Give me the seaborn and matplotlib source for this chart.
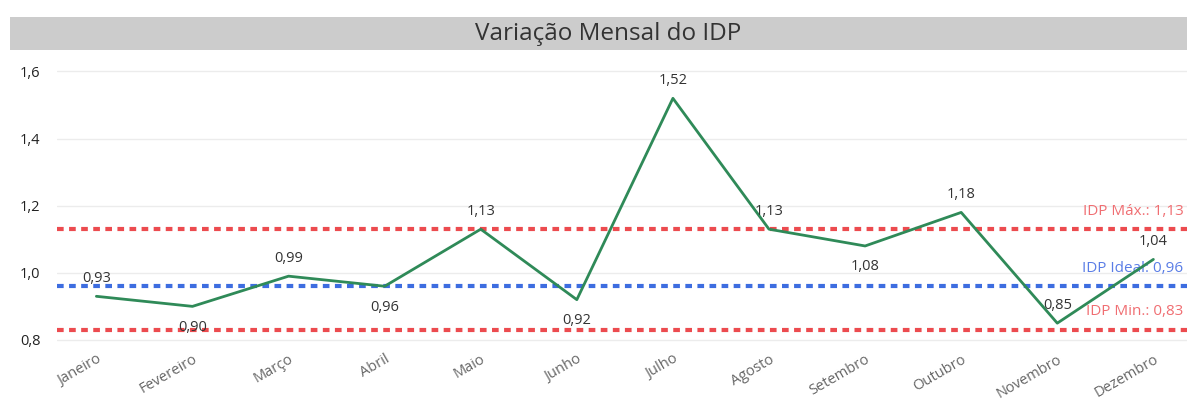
import matplotlib
matplotlib.use("Agg")
import matplotlib.pyplot as plt
import matplotlib.transforms as mtransforms
from matplotlib.patches import Rectangle
import pandas as pd
import seaborn as sns

# data
meses = ["Janeiro", "Fevereiro", "Março", "Abril", "Maio", "Junho",
         "Julho", "Agosto", "Setembro", "Outubro", "Novembro", "Dezembro"]
idp = [0.93, 0.90, 0.99, 0.96, 1.13, 0.92, 1.52, 1.13, 1.08, 1.18, 0.85, 1.04]
label_pos = ["up", "down", "up", "down", "up", "down",
             "up", "up", "down", "up", "up", "up"]

idp_max = 1.13
idp_ideal = 0.96
idp_min = 0.83
yticks = [0.8, 1.0, 1.2, 1.4, 1.6]

RED = "#ec4b4f"
BLUE = "#3d6de0"
GREEN = "#2f8a58"
GRID = "#ececec"

sns.set_style("white")
plt.rcParams["font.family"] = ["Open Sans", "DejaVu Sans"]

df = pd.DataFrame({"Mes": meses, "IDP": idp})

fig = plt.figure(figsize=(11.87, 4.03), dpi=100)
ax = fig.add_axes([0.048, 0.144, 0.952, 0.712])

# title bar
fig.patches.append(Rectangle((0.0084, 0.876), 0.9916, 0.082, transform=fig.transFigure,
                             facecolor="#cccccc", edgecolor="none", zorder=0))
fig.text(0.512, 0.915, "Variação Mensal do IDP", ha="center", va="center",
         fontsize=17.5, color="#333333")

for v in yticks:
    ax.axhline(v, color=GRID, lw=1, zorder=0)

dash = (1.6, 1.3)
ax.axhline(idp_max, color=RED, lw=3, linestyle=(0, dash), zorder=1)
ax.axhline(idp_min, color=RED, lw=3, linestyle=(0, dash), zorder=1)
ax.axhline(idp_ideal, color=BLUE, lw=3, linestyle=(0, dash), zorder=1)

sns.lineplot(data=df, x="Mes", y="IDP", ax=ax, color=GREEN, lw=2, sort=False, zorder=3)

for i, (v, p) in enumerate(zip(idp, label_pos)):
    dy = 13 if p == "up" else -15
    ax.annotate(f"{v:.2f}".replace(".", ","), (i, v), xytext=(0, dy),
                textcoords="offset points", ha="center", va="center",
                fontsize=10.5, color="#333333", zorder=4)

trans = mtransforms.blended_transform_factory(ax.transAxes, ax.transData)
for txt, val, col in [("IDP Máx.: 1,13", idp_max, "#f06e72"),
                      ("IDP Ideal: 0,96", idp_ideal, "#5a7de6"),
                      ("IDP Min.: 0,83", idp_min, "#f06e72")]:
    ax.annotate(txt, (0.997, val), xycoords=trans, xytext=(0, 13),
                textcoords="offset points", ha="right", va="center",
                fontsize=11, color=col, zorder=2)

ax.set_xlim(-0.41, 11.35)
ax.set_ylim(0.785, 1.64)
ax.set_yticks(yticks)
ax.set_yticklabels([f"{t:.1f}".replace(".", ",") for t in yticks], fontsize=10.5, color="#222222")
ax.tick_params(axis="y", length=0, pad=12)
ax.tick_params(axis="x", length=0, pad=5)
plt.setp(ax.get_xticklabels(), rotation=30, ha="right", rotation_mode="anchor",
         fontsize=10.5, color="#666666")
ax.set_xlabel("")
ax.set_ylabel("")
sns.despine(ax=ax, left=True, bottom=True)

fig.savefig("out.png", dpi=100, facecolor="white")
